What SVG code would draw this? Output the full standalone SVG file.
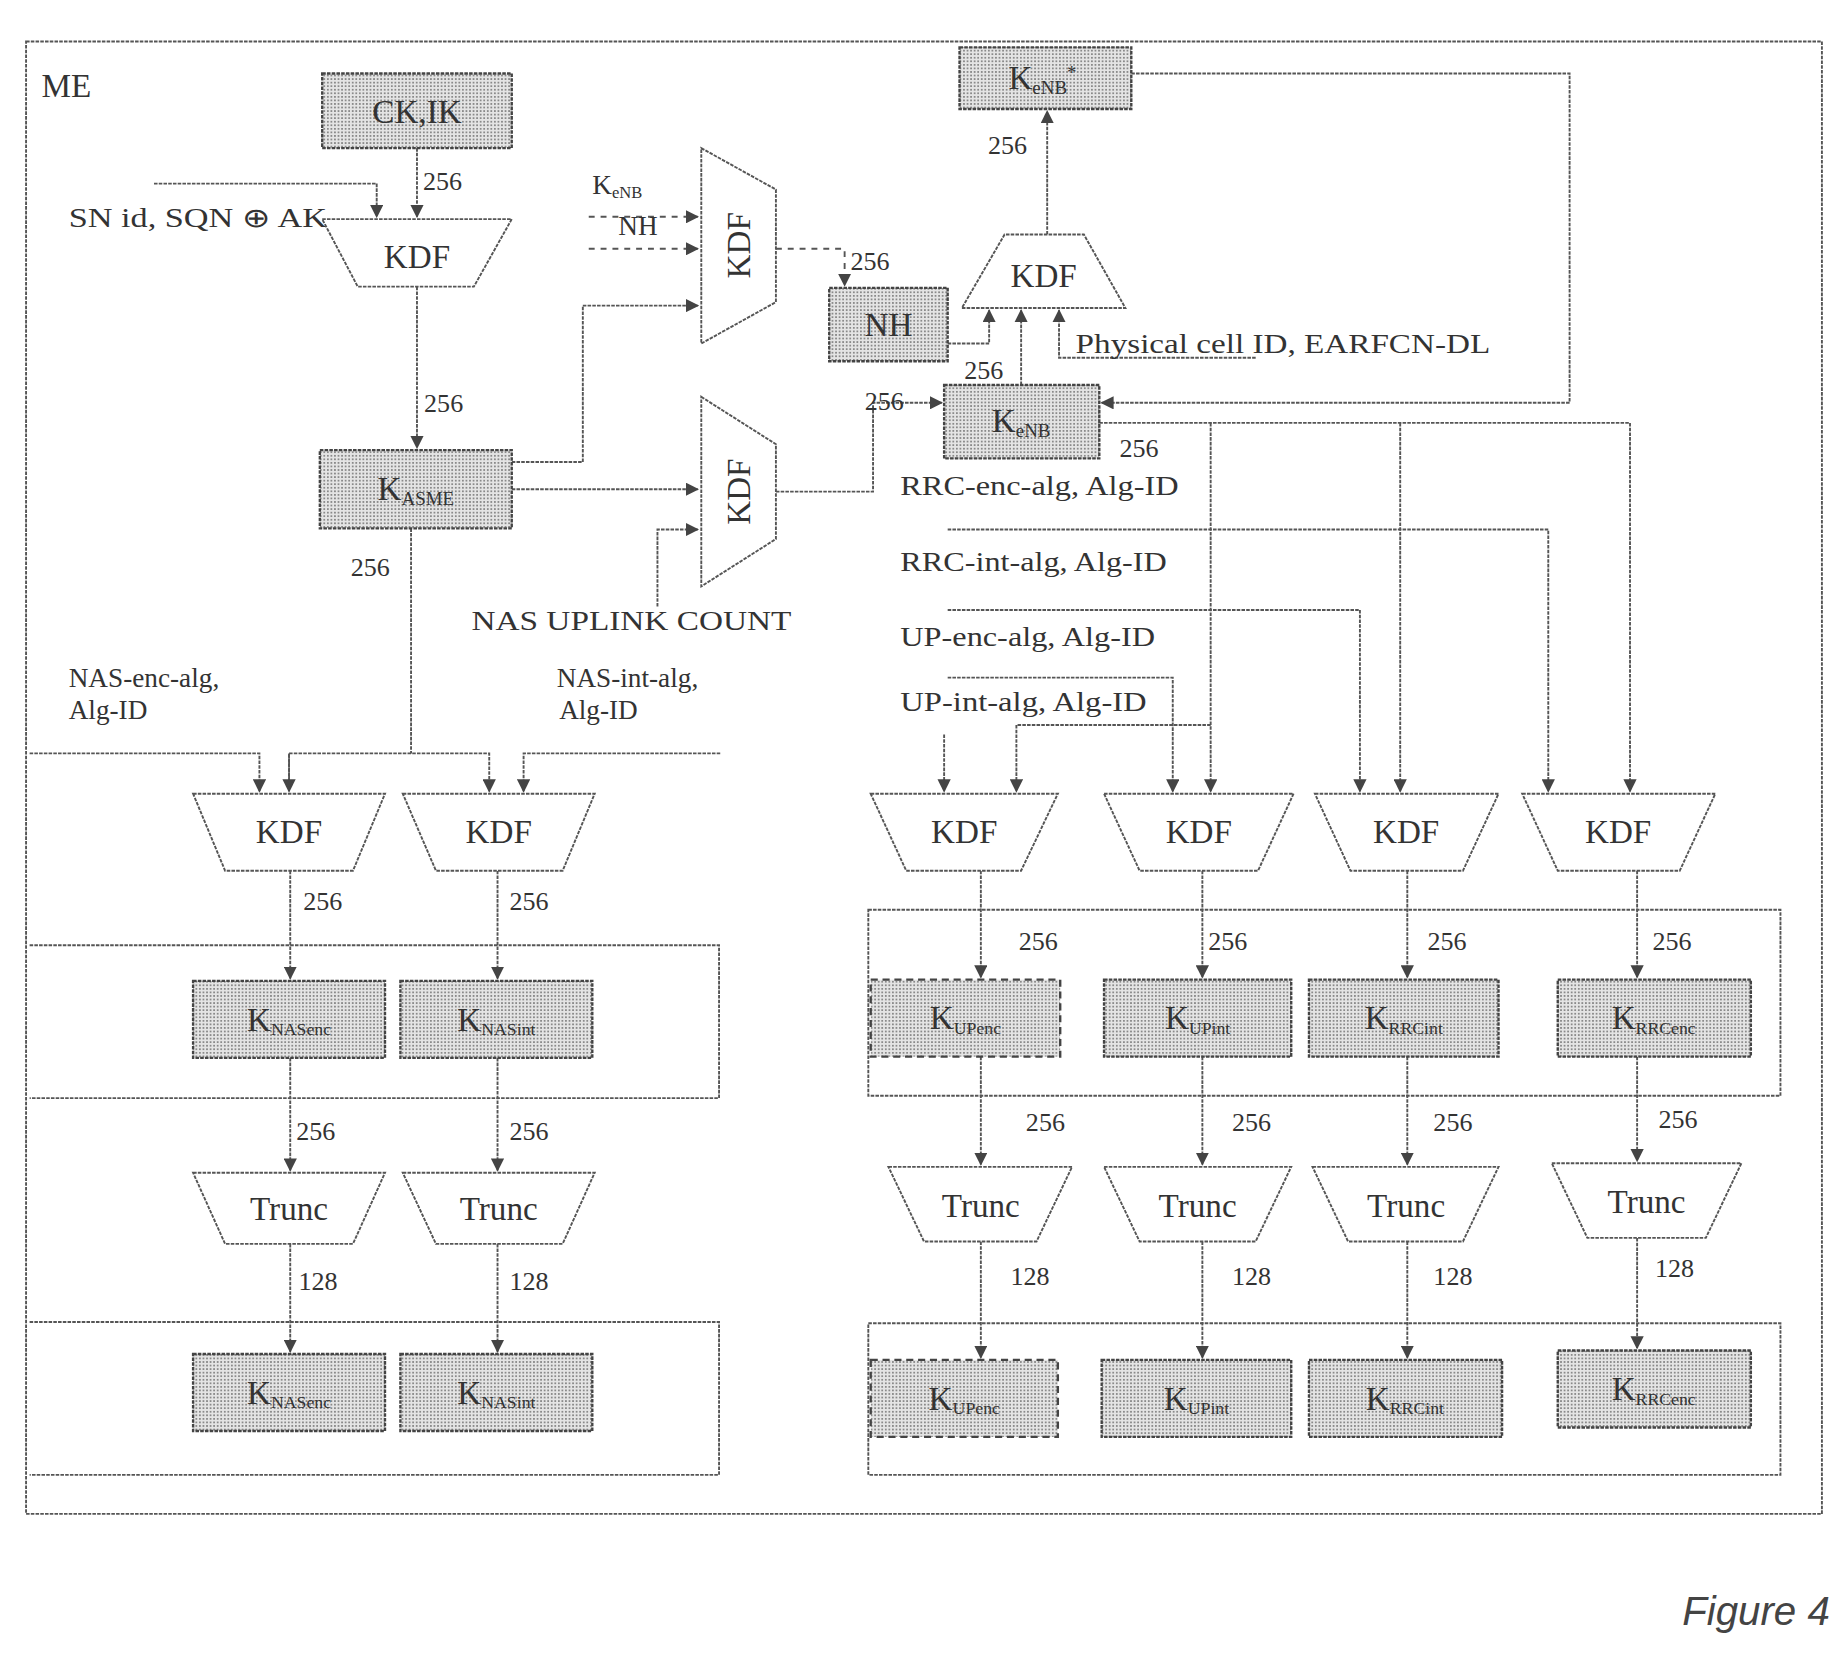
<svg xmlns="http://www.w3.org/2000/svg" width="1848" height="1658" viewBox="0 0 1848 1658">
<defs>
<marker id="ar" viewBox="0 0 10 10" refX="9" refY="5" markerWidth="7" markerHeight="7" orient="auto"><path d="M0,0 L10,5 L0,10 z" fill="#444"/></marker>
<pattern id="dots" width="3" height="3" patternUnits="userSpaceOnUse"><rect width="3" height="3" fill="#e4e4e4"/><rect width="1.5" height="1.5" fill="#8a8a8a"/></pattern>
<style>
.ln{fill:none;stroke:#555;stroke-width:1.6;stroke-dasharray:3 1}
.da{fill:none;stroke:#555;stroke-width:1.6;stroke-dasharray:5 5}
.bx{fill:url(#dots);stroke:#444;stroke-width:2;stroke-dasharray:3 1}
.dbx{fill:url(#dots);stroke:#444;stroke-width:2;stroke-dasharray:6 4}
.tr{fill:#fff;stroke:#555;stroke-width:1.6;stroke-dasharray:3 1}
.reg{fill:none;stroke:#555;stroke-width:1.6;stroke-dasharray:3 1}
text{font-family:"Liberation Serif",serif;fill:#333}
.t{font-size:28px;text-anchor:middle}
.s{font-size:23px}
.n{font-size:22px}
</style>
</defs>
<rect width="1848" height="1658" fill="#fff"/>
<g transform="scale(1.1846)">
<g id="frame"><rect x="22" y="35" width="1516" height="1243" class="reg"/>
<text x="35" y="82" style="font-size:28px">ME</text></g>
<g id="regions">
<path class="reg" d="M25,798 H607 V927 H25"/>
<path class="reg" d="M25,1116 H607 V1245 H25"/>
<rect x="733" y="768" width="770" height="157" class="reg"/>
<rect x="733" y="1117" width="770" height="128" class="reg"/>
</g>
<g id="connectors">
<path class="ln" d="M352,125 V183" marker-end="url(#ar)"/>
<path class="ln" d="M130,155 H318 V183" marker-end="url(#ar)"/>
<path class="ln" d="M352,242 V378" marker-end="url(#ar)"/>
<path class="ln" d="M432,390 H492 V258 H589" marker-end="url(#ar)"/>
<path class="da" d="M497,183 H589" marker-end="url(#ar)"/>
<path class="da" d="M497,210 H589" marker-end="url(#ar)"/>
<path class="da" d="M655,210 H713 V241" marker-end="url(#ar)"/>
<path class="ln" d="M432,413 H589" marker-end="url(#ar)"/>
<path class="ln" d="M555,512 V447 H589" marker-end="url(#ar)"/>
<path class="ln" d="M655,415 H737 V340 H795" marker-end="url(#ar)"/>
<path class="ln" d="M884,198 V94" marker-end="url(#ar)"/>
<path class="ln" d="M955,62 H1325 V340 H930" marker-end="url(#ar)"/>
<path class="ln" d="M800,290 H835 V262" marker-end="url(#ar)"/>
<path class="ln" d="M862,325 V262" marker-end="url(#ar)"/>
<path class="ln" d="M1060,302 H894 V262" marker-end="url(#ar)"/>
<path class="ln" d="M928,357 H1376 V668" marker-end="url(#ar)"/>
<path class="ln" d="M1022,357 V668" marker-end="url(#ar)"/>
<path class="ln" d="M1182,357 V668" marker-end="url(#ar)"/>
<path class="ln" d="M800,447 H1307 V668" marker-end="url(#ar)"/>
<path class="ln" d="M800,515 H1148 V668" marker-end="url(#ar)"/>
<path class="ln" d="M800,572 H990 V668" marker-end="url(#ar)"/>
<path class="ln" d="M1022,612 H858 V668" marker-end="url(#ar)"/>
<path class="ln" d="M797,620 V668" marker-end="url(#ar)"/>
<path class="ln" d="M347,446 V636"/>
<path class="ln" d="M25,636 H219 V668" marker-end="url(#ar)"/>
<path class="ln" d="M244,668 V636 H413 V668" marker-end="url(#ar)"/>
<path class="ln" d="M244,636 V668" marker-end="url(#ar)"/>
<path class="ln" d="M608,636 H442 V668" marker-end="url(#ar)"/>
<path class="ln" d="M245,735 V826" marker-end="url(#ar)"/>
<path class="ln" d="M420,735 V826" marker-end="url(#ar)"/>
<path class="ln" d="M245,893 V988" marker-end="url(#ar)"/>
<path class="ln" d="M420,893 V988" marker-end="url(#ar)"/>
<path class="ln" d="M245,1050 V1141" marker-end="url(#ar)"/>
<path class="ln" d="M420,1050 V1141" marker-end="url(#ar)"/>
<path class="ln" d="M828,735 V825" marker-end="url(#ar)"/>
<path class="ln" d="M1015,735 V825" marker-end="url(#ar)"/>
<path class="ln" d="M1188,735 V825" marker-end="url(#ar)"/>
<path class="ln" d="M1382,735 V825" marker-end="url(#ar)"/>
<path class="ln" d="M828,892 V983" marker-end="url(#ar)"/>
<path class="ln" d="M1015,892 V983" marker-end="url(#ar)"/>
<path class="ln" d="M1188,892 V983" marker-end="url(#ar)"/>
<path class="ln" d="M1382,892 V980" marker-end="url(#ar)"/>
<path class="ln" d="M828,1048 V1146" marker-end="url(#ar)"/>
<path class="ln" d="M1015,1048 V1146" marker-end="url(#ar)"/>
<path class="ln" d="M1188,1048 V1146" marker-end="url(#ar)"/>
<path class="ln" d="M1382,1045 V1138" marker-end="url(#ar)"/>
</g>
<g id="labels">
<text x="357" y="160" class="n">256</text>
<text x="358" y="348" class="n">256</text>
<text x="296" y="486" class="n">256</text>
<text x="718" y="228" class="n">256</text>
<text x="730" y="346" class="n">256</text>
<text x="814" y="320" class="n">256</text>
<text x="945" y="386" class="n">256</text>
<text x="834" y="130" class="n">256</text>
<text x="58" y="192" class="s" textLength="218" lengthAdjust="spacingAndGlyphs">SN id, SQN ⊕ AK</text>
<text x="500" y="164" class="s">K<tspan font-size="14" dy="3">eNB</tspan></text>
<text x="522" y="198" class="s">NH</text>
<text x="398" y="532" class="s" textLength="270" lengthAdjust="spacingAndGlyphs">NAS UPLINK COUNT</text>
<text x="908" y="298" class="s" textLength="350" lengthAdjust="spacingAndGlyphs">Physical cell ID, EARFCN-DL</text>
<text x="58" y="580" class="s">NAS-enc-alg,</text>
<text x="58" y="607" class="s">Alg-ID</text>
<text x="470" y="580" class="s">NAS-int-alg,</text>
<text x="472" y="607" class="s">Alg-ID</text>
<text x="760" y="418" class="s" textLength="235" lengthAdjust="spacingAndGlyphs">RRC-enc-alg, Alg-ID</text>
<text x="760" y="482" class="s" textLength="225" lengthAdjust="spacingAndGlyphs">RRC-int-alg, Alg-ID</text>
<text x="760" y="545" class="s" textLength="215" lengthAdjust="spacingAndGlyphs">UP-enc-alg, Alg-ID</text>
<text x="760" y="600" class="s" textLength="208" lengthAdjust="spacingAndGlyphs">UP-int-alg, Alg-ID</text>
<text x="256" y="768" class="n">256</text>
<text x="430" y="768" class="n">256</text>
<text x="250" y="962" class="n">256</text>
<text x="430" y="962" class="n">256</text>
<text x="252" y="1089" class="n">128</text>
<text x="430" y="1089" class="n">128</text>
<text x="860" y="802" class="n">256</text>
<text x="1020" y="802" class="n">256</text>
<text x="1205" y="802" class="n">256</text>
<text x="1395" y="802" class="n">256</text>
<text x="866" y="955" class="n">256</text>
<text x="1040" y="955" class="n">256</text>
<text x="1210" y="955" class="n">256</text>
<text x="1400" y="952" class="n">256</text>
<text x="853" y="1085" class="n">128</text>
<text x="1040" y="1085" class="n">128</text>
<text x="1210" y="1085" class="n">128</text>
<text x="1397" y="1078" class="n">128</text>
</g>
<g id="ckik"><rect x="272" y="62" width="160" height="63" class="bx"/><text x="352" y="104" class="t">CK,IK</text></g>
<g id="kdf1"><path d="M272,185 H432 L400,242 H302 Z" class="tr"/><text x="352" y="226" class="t">KDF</text></g>
<g id="kasme"><rect x="270" y="380" width="162" height="66" class="bx"/><text x="351" y="422" class="t">K<tspan font-size="16" dy="4">ASME</tspan></text></g>
<g id="kdf2"><path d="M592,125 L655,160 V255 L592,290 Z" class="tr"/><text transform="translate(633,207) rotate(-90)" class="t">KDF</text></g>
<g id="kdf3"><path d="M592,335 L655,375 V455 L592,495 Z" class="tr"/><text transform="translate(633,415) rotate(-90)" class="t">KDF</text></g>
<g id="nh"><rect x="700" y="243" width="100" height="62" class="bx"/><text x="750" y="284" class="t">NH</text></g>
<g id="kenb"><rect x="797" y="325" width="131" height="62" class="bx"/><text x="862" y="365" class="t">K<tspan font-size="16" dy="4">eNB</tspan></text></g>
<g id="kdf4"><path d="M812,260 H950 L915,198 H848 Z" class="tr"/><text x="881" y="242" class="t">KDF</text></g>
<g id="kenbstar"><rect x="810" y="40" width="145" height="52" class="bx"/><text x="880" y="75" class="t">K<tspan font-size="16" dy="4">eNB</tspan><tspan font-size="16" dy="-12">*</tspan></text></g>
<g id="kdf5"><path d="M163,670 H325 L298,735 H190 Z" class="tr"/><text x="244" y="712" class="t">KDF</text></g>
<g id="kdf6"><path d="M340,670 H502 L475,735 H368 Z" class="tr"/><text x="421" y="712" class="t">KDF</text></g>
<g id="kdf7"><path d="M735,670 H893 L862,735 H765 Z" class="tr"/><text x="814" y="712" class="t">KDF</text></g>
<g id="kdf8"><path d="M932,670 H1092 L1062,735 H962 Z" class="tr"/><text x="1012" y="712" class="t">KDF</text></g>
<g id="kdf9"><path d="M1110,670 H1265 L1235,735 H1140 Z" class="tr"/><text x="1187" y="712" class="t">KDF</text></g>
<g id="kdf10"><path d="M1285,670 H1448 L1418,735 H1315 Z" class="tr"/><text x="1366" y="712" class="t">KDF</text></g>
<g id="knasenc1"><rect x="163" y="828" width="162" height="65" class="bx"/><text x="244" y="870" class="t">K<tspan font-size="15" dy="4">NASenc</tspan></text></g>
<g id="knasint1"><rect x="338" y="828" width="162" height="65" class="bx"/><text x="419" y="870" class="t">K<tspan font-size="15" dy="4">NASint</tspan></text></g>
<g id="kupenc1"><rect x="735" y="827" width="160" height="65" class="dbx"/><text x="815" y="869" class="t">K<tspan font-size="15" dy="4">UPenc</tspan></text></g>
<g id="kupint1"><rect x="932" y="827" width="158" height="65" class="bx"/><text x="1011" y="869" class="t">K<tspan font-size="15" dy="4">UPint</tspan></text></g>
<g id="krrcint1"><rect x="1105" y="827" width="160" height="65" class="bx"/><text x="1185" y="869" class="t">K<tspan font-size="15" dy="4">RRCint</tspan></text></g>
<g id="krrcenc1"><rect x="1315" y="827" width="163" height="65" class="bx"/><text x="1396" y="869" class="t">K<tspan font-size="15" dy="4">RRCenc</tspan></text></g>
<g id="trunc1"><path d="M163,990 H325 L298,1050 H190 Z" class="tr"/><text x="244" y="1030" class="t">Trunc</text></g>
<g id="trunc2"><path d="M340,990 H502 L475,1050 H368 Z" class="tr"/><text x="421" y="1030" class="t">Trunc</text></g>
<g id="trunc3"><path d="M750,985 H905 L875,1048 H780 Z" class="tr"/><text x="828" y="1027" class="t">Trunc</text></g>
<g id="trunc4"><path d="M932,985 H1090 L1060,1048 H962 Z" class="tr"/><text x="1011" y="1027" class="t">Trunc</text></g>
<g id="trunc5"><path d="M1108,985 H1265 L1235,1048 H1138 Z" class="tr"/><text x="1187" y="1027" class="t">Trunc</text></g>
<g id="trunc6"><path d="M1310,982 H1470 L1440,1045 H1340 Z" class="tr"/><text x="1390" y="1024" class="t">Trunc</text></g>
<g id="knasenc2"><rect x="163" y="1143" width="162" height="65" class="bx"/><text x="244" y="1185" class="t">K<tspan font-size="15" dy="4">NASenc</tspan></text></g>
<g id="knasint2"><rect x="338" y="1143" width="162" height="65" class="bx"/><text x="419" y="1185" class="t">K<tspan font-size="15" dy="4">NASint</tspan></text></g>
<g id="kupenc2"><rect x="735" y="1148" width="158" height="65" class="dbx"/><text x="814" y="1190" class="t">K<tspan font-size="15" dy="4">UPenc</tspan></text></g>
<g id="kupint2"><rect x="930" y="1148" width="160" height="65" class="bx"/><text x="1010" y="1190" class="t">K<tspan font-size="15" dy="4">UPint</tspan></text></g>
<g id="krrcint2"><rect x="1105" y="1148" width="163" height="65" class="bx"/><text x="1186" y="1190" class="t">K<tspan font-size="15" dy="4">RRCint</tspan></text></g>
<g id="krrcenc2"><rect x="1315" y="1140" width="163" height="65" class="bx"/><text x="1396" y="1182" class="t">K<tspan font-size="15" dy="4">RRCenc</tspan></text></g>
<text x="1420" y="1372" style="font-family:'Liberation Sans',sans-serif;font-size:34px;font-style:italic;fill:#444">Figure 4</text>
</g>
</svg>
